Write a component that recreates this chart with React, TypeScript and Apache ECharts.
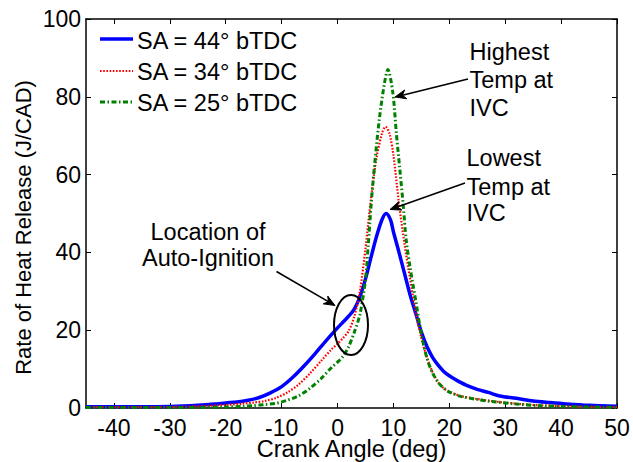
import { useEffect, useRef } from 'react';
import * as echarts from 'echarts';

const FONT = '"Liberation Sans", Arial, sans-serif';

const xTickValues = [-40, -30, -20, -10, 0, 10, 20, 30, 40, 50];

const seriesNames = ['SA = 44° bTDC', 'SA = 34° bTDC', 'SA = 25° bTDC'];
const seriesColors = ['#0000ff', '#ff0000', '#008000'];

const angle44 = [-45, -40, -35, -30, -25, -22, -20, -18, -16, -14, -12, -10, -8, -6, -4, -2, 0, 1, 2, 3, 4, 5, 6, 7, 8, 8.7, 9.5, 10, 11, 12, 13, 14, 15, 16, 17, 18, 19, 20, 21, 22, 23, 25, 27, 29, 32, 35, 38, 41, 45, 50];
const hrr44 = [0.3, 0.3, 0.3, 0.4, 0.7, 1.0, 1.3, 1.55, 2.0, 2.7, 3.9, 5.5, 7.9, 10.8, 14.0, 17.4, 20.6, 22.1, 23.6, 25.4, 28.6, 33.2, 38.8, 44.2, 48.6, 50.0, 48.3, 45.3, 40.0, 34.5, 29.0, 24.3, 19.5, 15.8, 13.0, 11.0, 9.4, 8.3, 7.4, 6.6, 5.9, 4.8, 4.0, 3.1, 2.5, 1.8, 1.4, 1.05, 0.7, 0.45];

const angle34 = [-45, -35, -30, -25, -20, -17, -15, -13, -11, -9, -7, -5, -3, -1, 0, 1, 2, 3, 4, 5, 6, 7, 8, 8.6, 9.3, 10, 11, 12, 13, 14, 15, 16, 17, 18, 19, 20, 22, 25, 28, 32, 36, 40, 45, 50];
const hrr34 = [0.2, 0.2, 0.25, 0.45, 0.8, 1.1, 1.4, 1.8, 2.6, 4.0, 6.0, 8.8, 12.0, 15.2, 16.5, 18.0, 19.8, 23.5, 30.0, 41.0, 54.0, 64.5, 70.8, 72.3, 70.5, 65.0, 52.5, 42.0, 33.0, 24.5, 18.0, 13.0, 9.2, 6.6, 5.1, 4.2, 3.1, 2.3, 1.7, 1.1, 0.7, 0.5, 0.3, 0.2];

const angle25 = [-45, -30, -25, -20, -17, -15, -13, -11, -9, -7, -5, -3, -1, 0, 1, 2, 3, 4, 5, 5.5, 6, 6.6, 7.5, 8.4, 9, 9.9, 10.5, 11.1, 11.7, 12.3, 13, 14, 15, 16, 17, 18, 19, 20, 22, 25, 28, 32, 36, 40, 45, 50];
const hrr25 = [0.1, 0.1, 0.15, 0.25, 0.4, 0.6, 0.9, 1.2, 2.0, 3.1, 5.0, 7.5, 10.5, 11.8, 13.3, 15.8, 19.5, 24.0, 33.0, 42.0, 52.0, 62.0, 74.5, 83.5, 87.0, 81.0, 71.0, 62.0, 53.0, 43.0, 36.0, 27.5, 19.0, 12.8, 9.0, 6.6, 5.1, 4.1, 3.0, 2.2, 1.6, 1.0, 0.6, 0.4, 0.25, 0.15];

const zip = (xs: number[], ys: number[]) => xs.map((x, i) => [x, ys[i]]);

const lineStyles = [
  { width: 3.5, type: 'solid' as any, dash: null as number[] | null },
  { width: 2.2, type: [1.6, 1.6] as any, dash: [1.6, 1.6] },
  { width: 3, type: [5, 2.5, 1.5, 2.5] as any, dash: [5, 2.5, 1.5, 2.5] },
];

function arrow(x1: number, y1: number, x2: number, y2: number) {
  const a = Math.atan2(y2 - y1, x2 - x1);
  const L = 11;
  const W = 4.5;
  const c = Math.cos(a);
  const s = Math.sin(a);
  const bx = x2 - L * c;
  const by = y2 - L * s;
  const nx = x2 - 0.7 * L * c;
  const ny = y2 - 0.7 * L * s;
  return [
    {
      type: 'line',
      z: 100,
      shape: { x1, y1, x2: nx, y2: ny },
      style: { stroke: '#000', lineWidth: 1.6 },
    },
    {
      type: 'polygon',
      z: 100,
      shape: {
        points: [
          [x2, y2],
          [bx - W * s, by + W * c],
          [nx, ny],
          [bx + W * s, by - W * c],
        ],
      },
      style: { fill: '#000', stroke: '#000', lineWidth: 1 },
    },
  ];
}

function textLines(lines: string[], x: number, ys: number[], align: string) {
  return lines.map((t, i) => ({
    type: 'text',
    z: 100,
    x,
    y: ys[i],
    style: {
      text: t,
      font: `23.5px ${FONT}`,
      fill: '#000',
      textAlign: align,
      textVerticalAlign: 'middle',
    },
  }));
}

function legendItems() {
  const lineYs = [39, 71, 102];
  const textYs = [41, 72, 103];
  const out: any[] = [];
  seriesNames.forEach((name, i) => {
    out.push({
      type: 'line',
      z: 100,
      shape: { x1: 100, y1: lineYs[i], x2: 133, y2: lineYs[i] },
      style: {
        stroke: seriesColors[i],
        lineWidth: lineStyles[i].width,
        lineDash: lineStyles[i].dash || undefined,
      },
    });
    out.push({
      type: 'text',
      z: 100,
      x: 137,
      y: textYs[i],
      style: {
        text: name,
        font: `23.5px ${FONT}`,
        fill: '#000',
        textAlign: 'left',
        textVerticalAlign: 'middle',
      },
    });
  });
  return out;
}

export default function App() {
  const ref = useRef<HTMLDivElement>(null);
  useEffect(() => {
    const chart = echarts.init(ref.current!, null, { renderer: 'svg' });
    const axisLine = { show: true, onZero: false, lineStyle: { color: '#000', width: 1.5 } };
    const tickStyle = { color: '#000', width: 1 };
    const labelStyle = { color: '#000', fontSize: 23, fontFamily: FONT, lineHeight: 19 };
    const angleSets = [angle44, angle34, angle25];
    const hrrSets = [hrr44, hrr34, hrr25];
    chart.setOption({
      animation: false,
      backgroundColor: '#fff',
      grid: { left: 86, right: 16, top: 19, bottom: 54, containLabel: false, outerBoundsMode: 'none' },
      xAxis: [
        {
          type: 'value',
          min: -45,
          max: 50,
          position: 'bottom',
          name: 'Crank Angle (deg)',
          nameLocation: 'middle',
          nameGap: 32,
          nameMoveOverlap: false,
          nameTextStyle: { color: '#000', fontSize: 23.5, fontFamily: FONT, verticalAlign: 'top', lineHeight: 18 },
          axisLine,
          axisTick: { show: true, inside: true, length: 5, lineStyle: tickStyle, customValues: xTickValues },
          axisLabel: { ...labelStyle, margin: 10, customValues: xTickValues },
          splitLine: { show: false },
        },
        {
          type: 'value',
          min: -45,
          max: 50,
          position: 'top',
          axisLine,
          axisTick: { show: true, inside: true, length: 5, lineStyle: tickStyle, customValues: xTickValues },
          axisLabel: { show: false },
          splitLine: { show: false },
        },
      ],
      yAxis: [
        {
          type: 'value',
          min: 0,
          max: 100,
          interval: 20,
          position: 'left',
          name: 'Rate of Heat Release (J/CAD)',
          nameLocation: 'middle',
          nameGap: 52,
          nameMoveOverlap: false,
          nameTextStyle: { color: '#000', fontSize: 22, fontFamily: FONT, padding: [0, 28, 0, 0] },
          axisLine,
          axisTick: { show: true, inside: true, length: 5, lineStyle: tickStyle },
          axisLabel: { ...labelStyle, margin: 5 },
          splitLine: { show: false },
        },
        {
          type: 'value',
          min: 0,
          max: 100,
          interval: 20,
          position: 'right',
          axisLine,
          axisTick: { show: true, inside: true, length: 5, lineStyle: tickStyle },
          axisLabel: { show: false },
          splitLine: { show: false },
        },
      ],
      series: seriesNames.map((name, i) => ({
        name,
        type: 'line',
        xAxisIndex: 0,
        yAxisIndex: 0,
        data: zip(angleSets[i], hrrSets[i]),
        symbol: 'none',
        smooth: 0.3,
        lineStyle: { color: seriesColors[i], width: lineStyles[i].width, type: lineStyles[i].type },
        itemStyle: { color: seriesColors[i] },
      })),
      graphic: [
        ...legendItems(),
        ...textLines(['Highest', 'Temp at', 'IVC'], 469.5, [51.7, 80, 107.7], 'left'),
        ...textLines(['Lowest', 'Temp at', 'IVC'], 466.5, [158.4, 186.7, 213.4], 'left'),
        ...textLines(['Location of', 'Auto-Ignition'], 208, [231.7, 258.4], 'center'),
        ...arrow(468, 79, 395, 97),
        ...arrow(465, 183, 390, 209.5),
        ...arrow(276.5, 271.5, 335, 305.5),
        {
          type: 'ellipse',
          z: 100,
          shape: { cx: 351, cy: 325, rx: 17, ry: 30 },
          style: { fill: 'none', stroke: '#000', lineWidth: 2 },
        },
      ],
    });
    return () => chart.dispose();
  }, []);
  return <div ref={ref} style={{ position: 'fixed', left: 0, top: 0, width: 633, height: 462 }} />;
}
